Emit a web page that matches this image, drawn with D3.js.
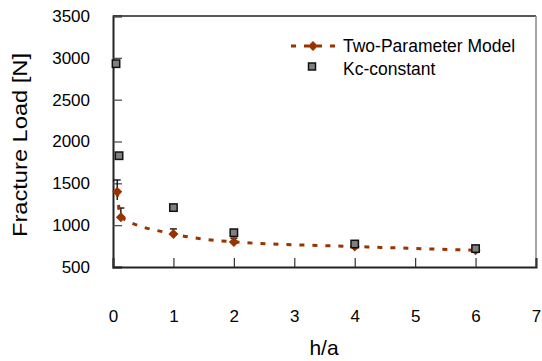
<!DOCTYPE html>
<html><head><meta charset="utf-8">
<script src="https://cdn.jsdelivr.net/npm/d3@7"></script>
<style>body{margin:0;background:#fff}svg{display:block}text{font-family:Arial,"Liberation Sans",sans-serif}</style>
</head><body><svg id="c" width="542" height="361"></svg>
<script>
const modelX = [0.07, 0.13, 1, 2, 4, 6];
const modelY = [1400, 1095, 895, 800, 745, 700];
const errPlus = [140, 110, 60, 45, 15, 10];
const errMinus = [100, 0, 0, 0, 0, 0];
const kcX = [0.05, 0.1, 1, 2, 4, 6];
const kcY = [2930, 1830, 1210, 910, 775, 720];
const xTicks = [0,1,2,3,4,5,6,7];
const yTicks = [500,1000,1500,2000,2500,3000,3500];

const svg = d3.select("#c");
const L=113, R=536, T=16, B=267;
const x = d3.scaleLinear().domain([0,7]).range([L,R]);
const y = d3.scaleLinear().domain([500,3500]).range([B,T]);
const col = "#993300";
const FF = "Arial, 'Liberation Sans', sans-serif";

// frame
svg.append("line").attr("x1",L).attr("x2",R).attr("y1",T).attr("y2",T).attr("stroke","#222").attr("stroke-width",1.5);
svg.append("line").attr("x1",R).attr("x2",R).attr("y1",T).attr("y2",B).attr("stroke","#888").attr("stroke-width",1.5);

// y axis
const ya = svg.append("g").attr("transform",`translate(${L},0)`)
  .call(d3.axisLeft(y).tickValues(yTicks).tickSize(-9).tickPadding(23).tickFormat(d3.format("d")));
ya.select(".domain").attr("stroke","#222").attr("stroke-width",2);
ya.selectAll(".tick line").attr("stroke","#444").attr("stroke-width",1.2);
ya.selectAll("text").attr("font-size",17).style("font-family",FF).attr("fill","#000");

// x axis
const xa = svg.append("g").attr("transform",`translate(0,${B})`)
  .call(d3.axisBottom(x).tickValues(xTicks).tickSize(-9).tickPadding(43).tickFormat(d3.format("d")));
xa.select(".domain").attr("stroke","#222").attr("stroke-width",2);
xa.selectAll(".tick line").attr("stroke","#333").attr("stroke-width",1.2);
xa.selectAll("text").attr("font-size",17).style("font-family",FF).attr("fill","#000");

// labels
svg.append("text").attr("x",324).attr("y",355).attr("text-anchor","middle").attr("font-size",21).attr("fill","#000").text("h/a");
svg.append("text").attr("transform","translate(27,145) rotate(-90)").attr("text-anchor","middle")
  .attr("font-size",21).attr("fill","#000").attr("textLength",184).attr("lengthAdjust","spacingAndGlyphs").text("Fracture Load [N]");

// error bars
const md = modelX.map((v,i)=>({x:v,y:modelY[i],p:errPlus[i],m:errMinus[i]}));
const eb = svg.append("g").attr("stroke","#000").attr("stroke-width",1.3);
md.forEach(d=>{
  if(d.p>0){
    eb.append("line").attr("x1",x(d.x)).attr("x2",x(d.x)).attr("y1",y(d.y)).attr("y2",y(d.y+d.p));
    eb.append("line").attr("x1",x(d.x)-3.5).attr("x2",x(d.x)+3.5).attr("y1",y(d.y+d.p)).attr("y2",y(d.y+d.p));
  }
  if(d.m>0){
    eb.append("line").attr("x1",x(d.x)).attr("x2",x(d.x)).attr("y1",y(d.y)).attr("y2",y(d.y-d.m));
  }
});

// model dashed line
svg.append("path").datum(md)
  .attr("d",d3.line().x(d=>x(d.x)).y(d=>y(d.y)).curve(d3.curveMonotoneX))
  .attr("fill","none").attr("stroke",col).attr("stroke-width",3).attr("stroke-dasharray","5,8");

// diamonds
const dia = "M0,-5L5,0L0,5L-5,0Z";
svg.append("g").selectAll("path").data(md).join("path")
  .attr("transform",d=>`translate(${x(d.x)},${y(d.y)})`).attr("d",dia).attr("fill",col);

// squares
const kd = kcX.map((v,i)=>({x:v,y:kcY[i]}));
svg.append("g").selectAll("rect").data(kd).join("rect")
  .attr("x",d=>x(d.x)-3.7).attr("y",d=>y(d.y)-3.7).attr("width",7.4).attr("height",7.4)
  .attr("fill","#808080").attr("stroke","#111").attr("stroke-width",1.5);

// legend
const lg = svg.append("g");
lg.append("line").attr("x1",291).attr("x2",336).attr("y1",46).attr("y2",46)
  .attr("stroke",col).attr("stroke-width",3).attr("stroke-dasharray","5,8");
lg.append("path").attr("transform","translate(313,46)").attr("d",dia).attr("fill",col);
lg.append("text").attr("x",343).attr("y",52).attr("font-size",17.5).attr("fill","#000").text("Two-Parameter Model");
lg.append("rect").attr("x",308.5).attr("y",63).attr("width",7).attr("height",7)
  .attr("fill","#808080").attr("stroke","#111").attr("stroke-width",1.5);
lg.append("text").attr("x",343).attr("y",74.5).attr("font-size",17.5).attr("fill","#000").text("Kc-constant");
</script></body></html>
